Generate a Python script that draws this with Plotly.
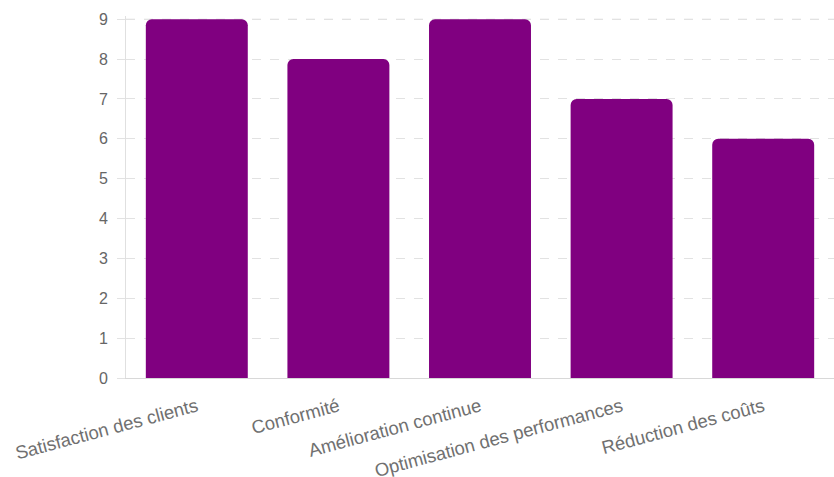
import plotly.graph_objects as go

categories = ["Satisfaction des clients", "Conformité", "Amélioration continue",
              "Optimisation des performances", "Réduction des coûts"]
values = [9, 8, 9, 7, 6]
y_ticks = list(range(0, 10))

fig = go.Figure(go.Bar(
    x=categories, y=values,
    marker=dict(color="#800080", cornerradius=6, line=dict(width=0)),
    hoverinfo="x+y",
))

# make sure the top gridline is drawn
fig.add_shape(type="line", xref="paper", yref="y", x0=0, x1=1,
              y0=max(y_ticks), y1=max(y_ticks),
              line=dict(color="#e2e2e2", width=1, dash="dash"), layer="below")

fig.update_layout(
    width=834, height=477,
    margin=dict(l=126, r=0, t=16, b=99),
    paper_bgcolor="white", plot_bgcolor="white",
    bargap=0.28,
    showlegend=False,
    font=dict(family="Liberation Sans, Arial, sans-serif", size=14, color="#666666"),
)
fig.update_yaxes(
    range=[0, 9.08], tickvals=y_ticks,
    showgrid=True, gridcolor="#e2e2e2", griddash="dash", gridwidth=1,
    ticks="outside", ticklen=8, tickcolor="#e2e2e2",
    showline=True, linecolor="#e0e0e0", linewidth=1,
    zeroline=True, zerolinecolor="#d0d0d0", zerolinewidth=1,
    ticklabelstandoff=6,
    tickfont=dict(size=16, color="#666666"),
    automargin=False,
)
fig.update_xaxes(
    tickangle=-15,
    showgrid=False,
    showline=True, linecolor="#d8d8d8", linewidth=1,
    ticks="",
    ticklabelstandoff=10,
    tickfont=dict(size=18.5, color="#707070"),
    automargin=False,
)

fig.write_html("out.html")
